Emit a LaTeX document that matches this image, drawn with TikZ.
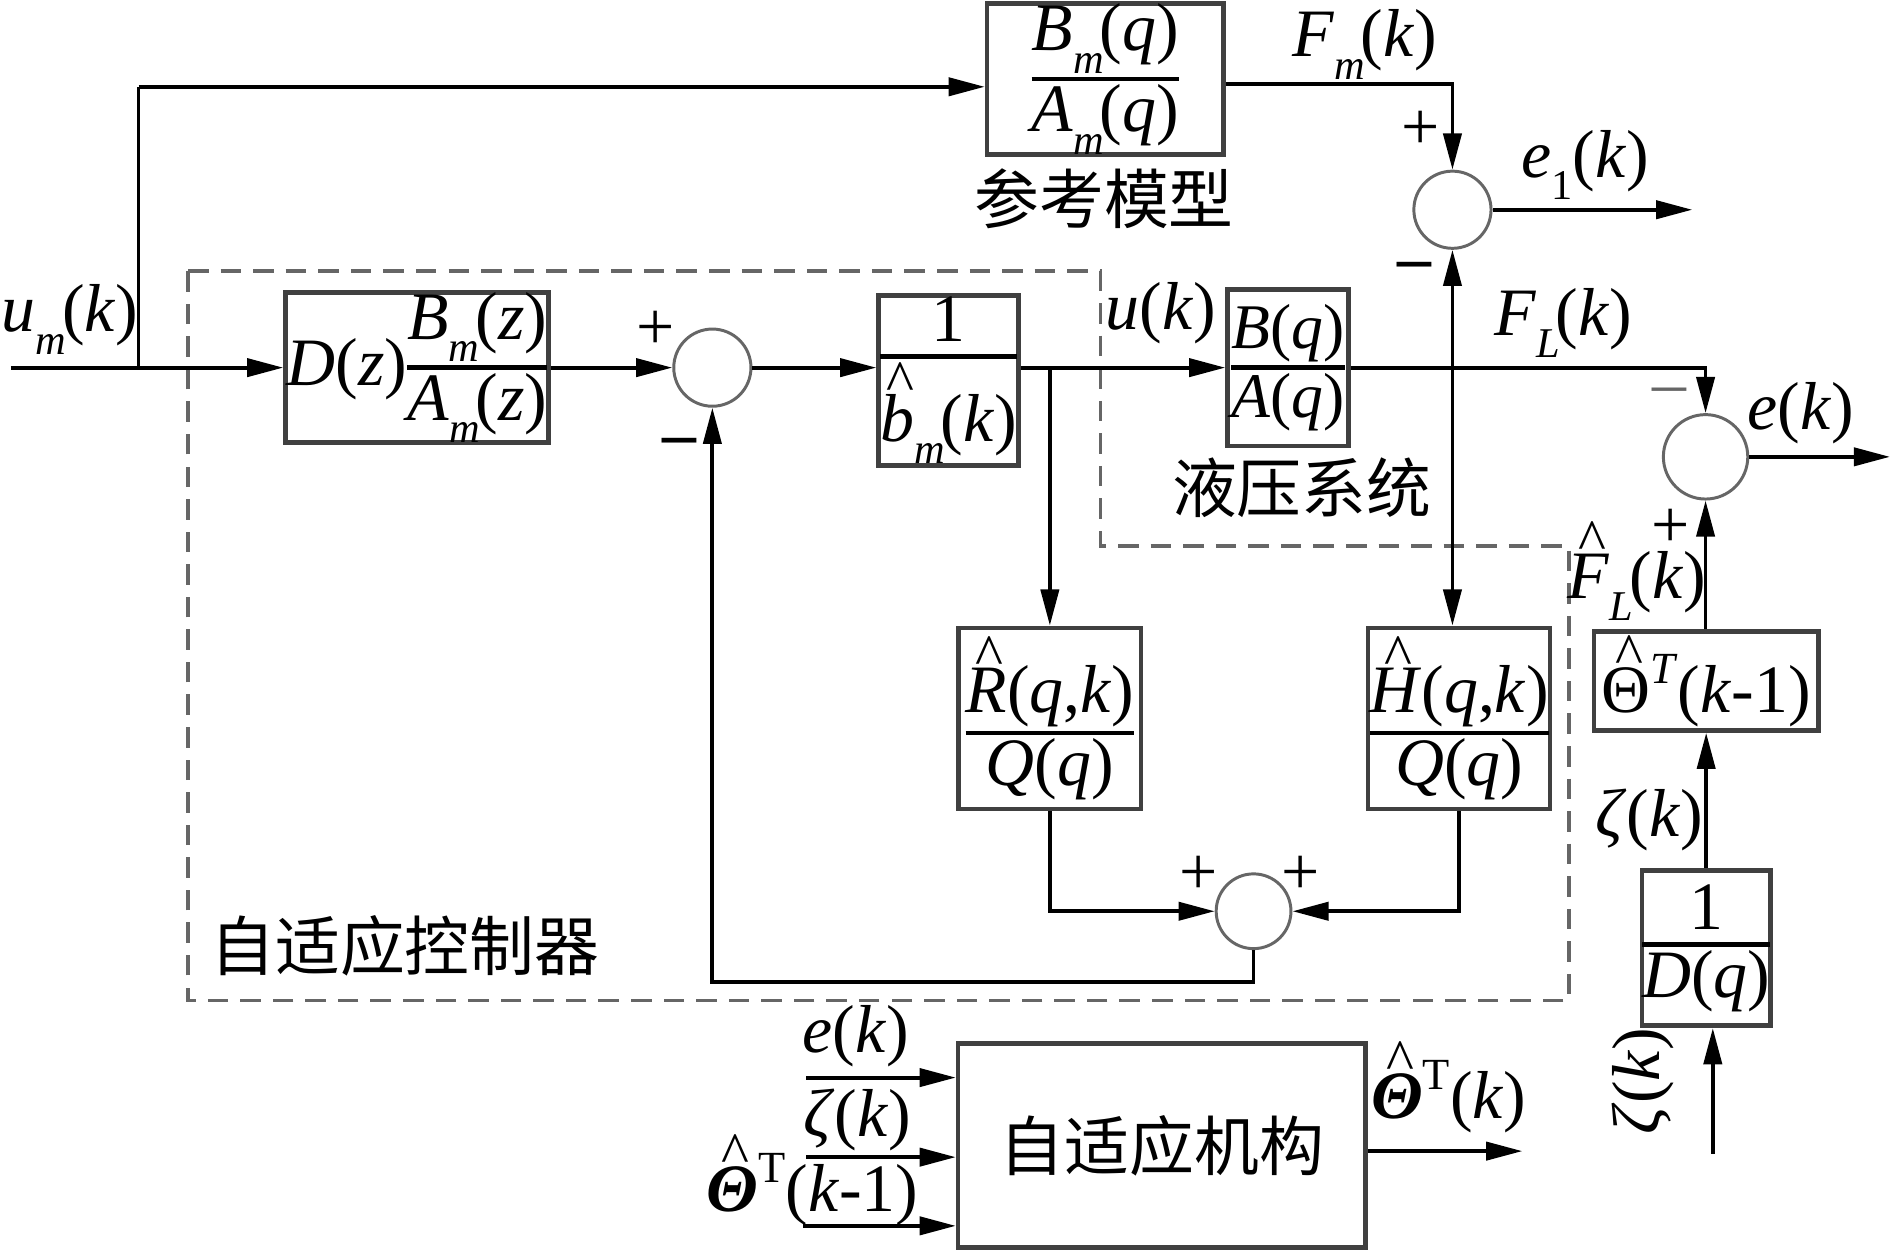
\documentclass[tikz,border=0pt]{standalone}
\usepackage{fontspec}
\setmainfont{Liberation Serif}
\newfontfamily\cjk{Noto Sans CJK SC}
\usetikzlibrary{arrows.meta}
\newdimen\frwd
\newcommand{\vi}[1]{\textit{#1}}
\newcommand{\sbs}[1]{\raisebox{-0.33em}{\fontsize{10}{10}\selectfont\textit{#1}}\kern-0.06em}
\newcommand{\sbu}[1]{\raisebox{-0.33em}{\fontsize{10}{10}\selectfont #1}}
\newcommand{\sps}[1]{\raisebox{0.42em}{\fontsize{10.5}{10.5}\selectfont #1}}
\newcommand{\hatt}[1]{\leavevmode\setbox0=\hbox{#1}\rlap{\hbox to \wd0{\hss\kern0.1em\raisebox{\dimexpr\ht0-1.7pt\relax}{\fontsize{14}{14}\selectfont\textasciicircum}\hss}}\box0}
\newcommand{\fr}[3][0.8pt]{\ensuremath{\setbox1=\hbox{#2}\setbox2=\hbox{#3}%
  \frwd=\wd1 \ifdim\wd2>\frwd \frwd=\wd2 \fi
  \vcenter{\hbox to\frwd{\hss\box1\hss}\kern#1\hrule height1.1pt\kern0.8pt\hbox to\frwd{\hss\box2\hss}}}}
\begin{document}
\begin{tikzpicture}[x=0.01cm,y=-0.01cm,
  mf/.style={font=\fontsize{16}{19}\selectfont},
  lab/.style={mf, inner sep=0pt},
  blk/.style={draw=black!75, line width=1.1pt, inner sep=0pt, fill=white, mf},
  sumc/.style={circle, draw=black!60, line width=0.7pt, inner sep=0pt, fill=white, minimum size=#1},
  sig/.style={line width=0.9pt, -{Triangle[length=0.3cm,width=0.15cm]}},
  wire/.style={line width=0.9pt},
  dashbox/.style={draw=black!60, line width=0.9pt, dash pattern=on 0.17cm off 0.1cm},
  sgn/.style={font=\fontsize{16}{16}\selectfont, inner sep=0pt},
  cjkl/.style={font=\cjk\fontsize{15.3}{18}\selectfont, inner sep=0pt}]
\useasboundingbox (0,0) rectangle (1568,1039);

% controller boundary
\draw[dashbox] (156,225) -- (913,225) -- (913,453) -- (1302,453) -- (1302,830) -- (156,830) -- cycle;

% blocks
\node[blk, minimum width=1.96cm, minimum height=1.25cm] (refm) at (917,65.5) {\fr{\vi{B}\sbs{m}(\vi{q})}{\vi{A}\sbs{m}(\vi{q})}};
\node[blk, minimum width=2.18cm, minimum height=1.18cm] (Dbox) at (346,305) {\vi{D}(\vi{z})\fr{\vi{B}\sbs{m}(\vi{z})}{\vi{A}\sbs{m}(\vi{z})}};
\node[blk, minimum width=1.16cm, minimum height=1.41cm] (bbox) at (787,315.5) {\fr[3pt]{1}{\hatt{\vi{b}}\sbs{m}(\vi{k})}};
\node[blk, minimum width=1.0cm, minimum height=1.30cm, font=\fontsize{15}{18}\selectfont] (BA) at (1068.5,305) {\fr{\vi{B}(\vi{q})}{\vi{A}(\vi{q})}};
\node[blk, minimum width=1.51cm, minimum height=1.50cm] (Rb) at (871,596) {\fr{\hatt{\vi{R}}(\vi{q},\vi{k})}{\vi{Q}(\vi{q})}};
\node[blk, minimum width=1.51cm, minimum height=1.50cm] (Hb) at (1210.5,596) {\fr{\hatt{\vi{H}}(\vi{q},\vi{k})}{\vi{Q}(\vi{q})}};
\node[blk, minimum width=1.86cm, minimum height=0.82cm] (Th) at (1415.5,565) {\hatt{Θ}\sps{\vi{T}}(\vi{k}-1)};
\node[blk, minimum width=0.99cm, minimum height=1.29cm] (Dq) at (1415.5,786.5) {\fr[3pt]{1}{\vi{D}(\vi{q})}};
\node[blk, minimum width=3.38cm, minimum height=1.69cm, font=\cjk\fontsize{15.3}{18}\selectfont] (am) at (964,950.5) {自适应机构};

% summing junctions
\node[sumc=0.64cm] (s1) at (591,305) {};
\node[sumc=0.64cm] (s2) at (1205,174) {};
\node[sumc=0.70cm] (s3) at (1415,379) {};
\node[sumc=0.62cm] (s4) at (1040,756) {};

% free ends
\coordinate (in) at (9,305);
\coordinate (tap) at (115,305);
\coordinate (tc) at (115,72);
\coordinate (j1) at (871,305);
\coordinate (j2) at (1205,305);
\coordinate (fbk) at (0,815);
\coordinate (e1out) at (1404,174);
\coordinate (eout) at (1568,379);
\coordinate (zin) at (1421,957);
\coordinate (thout) at (1263,955);
\coordinate (i1) at (669,894);
\coordinate (i2) at (669,960);
\coordinate (i3) at (666,1017);

% connectors
\draw[sig] (in) -- (Dbox.west);
\draw[line width=0.7pt] (tap) -- (tc);
\draw[sig] (tc) -- (tc -| refm.west);
\draw[sig] (Dbox.east) -- (s1.west);
\draw[sig] (s1.east) -- (s1 -| bbox.west);
\draw[sig] (s1 -| bbox.east) -- (s1 -| BA.west);
\draw[sig] (j1) -- (Rb.north);
\draw[sig] (BA.east) -- (BA.east -| s3) -- (s3.north);
\draw[sig] (j2) -- (s2.south);
\draw[sig] (j2) -- (j2 |- Hb.north);
\draw[sig] ([yshift=-0.045cm]refm.east) -- ([yshift=-0.045cm]refm.east -| s2) -- (s2.north);
\draw[sig] (s2.east) -- (e1out);
\draw[sig] (Rb.south) -- (Rb.south |- s4) -- (s4.west);
\draw[sig] (Hb.south) -- (Hb.south |- s4) -- (s4.east);
\draw[sig] (s4.south) -- (s4 |- fbk) -- (fbk -| s1) -- (s1.south);
\draw[sig] (Th.north -| s3) -- (s3.south);
\draw[sig] (Dq.north) -- (Th.south);
\draw[sig] (zin) -- (zin |- Dq.south);
\draw[sig] (s3.east) -- (eout);
\draw[sig] (am.east |- thout) -- (thout);
\draw[sig] (i1) -- (i1 -| am.west);
\draw[sig] (i2) -- (i2 -| am.west);
\draw[sig] (i3) -- (i3 -| am.west);

% signs
\node[sgn] (p1) at (544,274) {+};
\node[sgn] (m1) at (564,371) {\textbf{–}};
\node[sgn] (p2) at (1179,108) {+};
\node[sgn] (m2) at (1174,225) {\textbf{–}};
\node[sgn, text=black!60] (m3) at (1385,329) {–};
\node[sgn] (p3) at (1386,438) {+};
\node[sgn] (p4) at (994,726) {+};
\node[sgn] (p5) at (1079,726) {+};

% signal labels
\node[lab] (lum) at (58,265) {\vi{u}\sbs{m}(\vi{k})};
\node[lab] (lFm) at (1132,37) {\vi{F}\sbs{m}(\vi{k})};
\node[lab] (le1) at (1315,137) {\vi{e}\sbu{1}(\vi{k})};
\node[lab] (lFL) at (1297,268) {\vi{F}\sbs{L}(\vi{k})};
\node[lab] (lu) at (963,260) {\vi{u}(\vi{k})};
\node[lab] (le) at (1494,343) {\vi{e}(\vi{k})};
\node[lab] (lFLh) at (1358,474) {\hatt{\vi{F}}\sbs{L}(\vi{k})};
\node[lab] (lz1) at (1368,680) {\vi{ζ}(\vi{k})};
\node[lab, rotate=90] (lz2) at (1363,897) {\vi{ζ}(\vi{k})};
\node[lab] (lTh) at (1202,902) {\hatt{\textbf{\textit{Θ}}}\sps{T}(\vi{k})};
\node[lab] (le2) at (710,860) {\vi{e}(\vi{k})};
\node[lab] (lz3) at (711,929) {\vi{ζ}(\vi{k})};
\node[lab] (lTh2) at (674,979) {\hatt{\textbf{\textit{Θ}}}\sps{T}(\vi{k}-1)};

% block captions
\node[cjkl] (c1) at (916,165) {参考模型};
\node[cjkl] (c2) at (1080,405) {液压系统};
\node[cjkl] (c3) at (336,785) {自适应控制器};
\end{tikzpicture}
\end{document}
